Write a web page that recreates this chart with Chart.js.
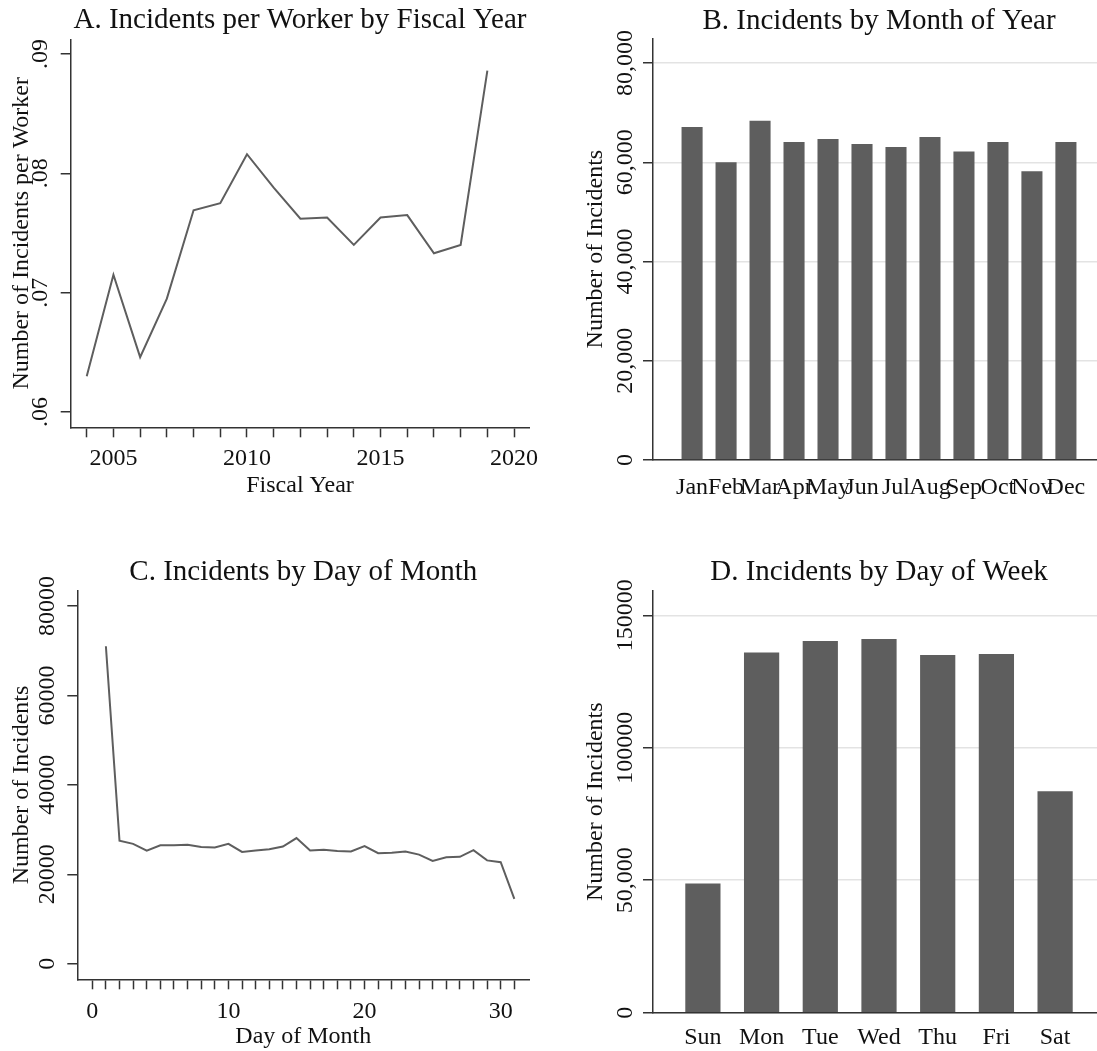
<!DOCTYPE html>
<html>
<head>
<meta charset="utf-8">
<title>Incidents</title>
<script src="https://cdn.jsdelivr.net/npm/chart.js@4.4.1/dist/chart.umd.min.js"></script>
<style>
  html, body { margin: 0; padding: 0; background: #fff; }
  #page { position: relative; width: 1097px; height: 1051px; overflow: hidden; background: #fff; }
  canvas { position: absolute; }
  #panelA { left: 0; top: 0; }
  #panelB { left: 548px; top: 0; }
  #panelC { left: 0; top: 520px; }
  #panelD { left: 548px; top: 520px; }
</style>
</head>
<body>
<div id="page">
  <canvas id="panelA" width="548" height="520"></canvas>
  <canvas id="panelB" width="557" height="520"></canvas>
  <canvas id="panelC" width="548" height="531"></canvas>
  <canvas id="panelD" width="557" height="531"></canvas>
</div>
<script>
const fiscalYears = [2004, 2005, 2006, 2007, 2008, 2009, 2010, 2011, 2012, 2013, 2014, 2015, 2016, 2017, 2018, 2019];
const incidentsPerWorker = [0.0630, 0.0715, 0.0646, 0.0695, 0.0769, 0.0775, 0.0816, 0.0788, 0.0762, 0.0763, 0.0740, 0.0763, 0.0765, 0.0733, 0.0740, 0.0886];
const yearTicks = [2004, 2005, 2006, 2007, 2008, 2009, 2010, 2011, 2012, 2013, 2014, 2015, 2016, 2017, 2018, 2019, 2020];
const labeledYears = [2005, 2010, 2015, 2020];
const perWorkerTicks = [0.06, 0.07, 0.08, 0.09];
const perWorkerTickLabels = ['.06', '.07', '.08', '.09'];

const months = ['Jan', 'Feb', 'Mar', 'Apr', 'May', 'Jun', 'Jul', 'Aug', 'Sep', 'Oct', 'Nov', 'Dec'];
const monthIncidents = [67100, 60000, 68400, 64100, 64700, 63700, 63100, 65100, 62200, 64100, 58200, 64100];
const monthCountTicks = [0, 20000, 40000, 60000, 80000];
const monthCountTickLabels = ['0', '20,000', '40,000', '60,000', '80,000'];

const daysOfMonth = [1, 2, 3, 4, 5, 6, 7, 8, 9, 10, 11, 12, 13, 14, 15, 16, 17, 18, 19, 20, 21, 22, 23, 24, 25, 26, 27, 28, 29, 30, 31];
const dayIncidents = [71000, 27500, 26800, 25300, 26500, 26500, 26600, 26100, 26000, 26800, 25000, 25300, 25600, 26200, 28100,
                      25300, 25500, 25200, 25100, 26300, 24700, 24800, 25100, 24400, 23000, 23800, 23900, 25400, 23100, 22700, 14500];
const dayTicks = [0, 1, 2, 3, 4, 5, 6, 7, 8, 9, 10, 11, 12, 13, 14, 15, 16, 17, 18, 19, 20, 21, 22, 23, 24, 25, 26, 27, 28, 29, 30, 31];
const labeledDays = [0, 10, 20, 30];
const dayCountTicks = [0, 20000, 40000, 60000, 80000];
const dayCountTickLabels = ['0', '20000', '40000', '60000', '80000'];

const weekdays = ['Sun', 'Mon', 'Tue', 'Wed', 'Thu', 'Fri', 'Sat'];
const weekdayIncidents = [48800, 136000, 140300, 141100, 135000, 135400, 83600];
const weekdayCountTicks = [0, 50000, 100000, 150000];
const weekdayCountTickLabels = ['0', '50,000', '100000', '150000'];

const serif = '"Liberation Serif", "Times New Roman", Times, serif';
const ink = '#111111';
const axisInk = '#333333';
const markGray = '#5e5e5e';
const gridGray = '#e3e3e3';

// title centred over the plot area, not the whole canvas
const panelTitle = {
    id: 'panelTitle',
    afterDraw(chart, args, opts) {
        const { ctx, chartArea } = chart;
        ctx.save();
        ctx.font = '29px ' + serif;
        ctx.fillStyle = ink;
        ctx.textAlign = 'center';
        ctx.textBaseline = 'alphabetic';
        ctx.fillText(opts.text, (chartArea.left + chartArea.right) / 2, opts.baseline);
        ctx.restore();
    },
};

// y tick labels turned on their side, centred on each tick
const rotatedYLabels = {
    id: 'rotatedYLabels',
    afterDraw(chart, args, opts) {
        const { ctx } = chart;
        const scale = chart.scales.y;
        ctx.save();
        ctx.font = '24px ' + serif;
        ctx.fillStyle = ink;
        ctx.textAlign = 'center';
        ctx.textBaseline = 'middle';
        scale.ticks.forEach(tick => {
            ctx.save();
            ctx.translate(opts.x, scale.getPixelForValue(tick.value));
            ctx.rotate(-Math.PI / 2);
            ctx.fillText(tick.label, 0, 0);
            ctx.restore();
        });
        ctx.restore();
    },
};

function fixedTicks(values) {
    return axis => {
        axis.ticks = values.map(value => ({ value }));
    };
}

function baseOptions(title, baseline, labelX, padding) {
    return {
        responsive: false,
        animation: false,
        events: [],
        layout: { padding },
        plugins: {
            legend: { display: false },
            tooltip: { enabled: false },
            panelTitle: { text: title, baseline },
            rotatedYLabels: { x: labelX },
        },
    };
}

function yAxis(min, max, ticks, labels, width, titleText, titlePad, gridLines) {
    return {
        min,
        max,
        afterBuildTicks: fixedTicks(ticks),
        afterFit: axis => { axis.width = width; },
        ticks: { display: false, callback: (v, i) => labels[i] },
        grid: {
            drawOnChartArea: gridLines,
            color: gridGray,
            lineWidth: 1.5,
            drawTicks: true,
            tickLength: 10,
            tickColor: axisInk,
            tickWidth: 1.5,
        },
        border: { display: true, color: axisInk, width: 1.5 },
        title: {
            display: true,
            text: titleText,
            color: ink,
            font: { family: serif, size: 24 },
            padding: { top: titlePad, bottom: 0 },
        },
    };
}

function xAxis(min, max, ticks, label, height, padding, withTickMarks) {
    return {
        type: 'linear',
        min,
        max,
        offset: false,
        afterBuildTicks: fixedTicks(ticks),
        afterFit: axis => { axis.height = height; },
        ticks: {
            autoSkip: false,
            minRotation: 0,
            maxRotation: 0,
            padding,
            color: ink,
            font: { family: serif, size: 24 },
            callback: label,
        },
        grid: {
            display: withTickMarks,
            offset: false,
            drawOnChartArea: false,
            drawTicks: withTickMarks,
            tickLength: withTickMarks ? 10 : 0,
            tickColor: axisInk,
            tickWidth: 1.5,
        },
        border: { display: true, color: axisInk, width: 1.5 },
    };
}

// A. incidents per worker by fiscal year
const optsA = baseOptions('A. Incidents per Worker by Fiscal Year', 28, 41, { top: 39.3, right: 18.7, bottom: 0, left: 0 });
optsA.scales = {
    x: Object.assign(xAxis(2003.4, 2020.57, yearTicks, v => labeledYears.includes(v) ? String(v) : '', 92.7, 7, true), {
        title: { display: true, text: 'Fiscal Year', color: ink, font: { family: serif, size: 24 }, padding: { top: 0, bottom: 20 } },
    }),
    y: yAxis(0.05872, 0.09123, perWorkerTicks, perWorkerTickLabels, 70.7, 'Number of Incidents per Worker', 7, false),
};
new Chart(document.getElementById('panelA'), {
    type: 'line',
    data: {
        datasets: [{
            data: fiscalYears.map((x, i) => ({ x, y: incidentsPerWorker[i] })),
            borderColor: markGray,
            borderWidth: 2,
            pointRadius: 0,
            tension: 0,
            fill: false,
        }],
    },
    options: optsA,
    plugins: [panelTitle, rotatedYLabels],
});

// B. incidents by month of year
const optsB = baseOptions('B. Incidents by Month of Year', 29, 78, { top: 38.3, right: 0, bottom: 0, left: 0 });
optsB.scales = {
    x: xAxis(-0.15, 13.15, months.map((m, i) => i + 1), (v, i) => months[i], 60, 13, false),
    y: yAxis(0, 85000, monthCountTicks, monthCountTickLabels, 105, 'Number of Incidents', 33.6, true),
};
new Chart(document.getElementById('panelB'), {
    type: 'bar',
    data: {
        datasets: [{
            data: months.map((m, i) => ({ x: i + 1, y: monthIncidents[i] })),
            backgroundColor: markGray,
            borderWidth: 0,
            barPercentage: 0.62,
            categoryPercentage: 1,
        }],
    },
    options: optsB,
    plugins: [panelTitle, rotatedYLabels],
});

// C. incidents by day of month
const optsC = baseOptions('C. Incidents by Day of Month', 60, 48, { top: 70.7, right: 18.7, bottom: 0, left: 0 });
optsC.scales = {
    x: Object.assign(xAxis(-1.1, 32.1, dayTicks, v => labeledDays.includes(v) ? String(v) : '', 71.7, 8, true), {
        title: { display: true, text: 'Day of Month', color: ink, font: { family: serif, size: 24 }, padding: { top: 0, bottom: 0 } },
    }),
    y: yAxis(-3490, 83420, dayCountTicks, dayCountTickLabels, 77.3, 'Number of Incidents', 7, false),
};
new Chart(document.getElementById('panelC'), {
    type: 'line',
    data: {
        datasets: [{
            data: daysOfMonth.map((x, i) => ({ x, y: dayIncidents[i] })),
            borderColor: markGray,
            borderWidth: 2,
            pointRadius: 0,
            tension: 0,
            fill: false,
        }],
    },
    options: optsC,
    plugins: [panelTitle, rotatedYLabels],
});

// D. incidents by day of week
const optsD = baseOptions('D. Incidents by Day of Week', 60, 78, { top: 70.7, right: 0, bottom: 0, left: 0 });
optsD.scales = {
    x: xAxis(0.15, 7.85, weekdays.map((d, i) => i + 1), (v, i) => weekdays[i], 38.3, 11, false),
    y: yAxis(0, 159300, weekdayCountTicks, weekdayCountTickLabels, 105, 'Number of Incidents', 33.6, true),
};
new Chart(document.getElementById('panelD'), {
    type: 'bar',
    data: {
        datasets: [{
            data: weekdays.map((d, i) => ({ x: i + 1, y: weekdayIncidents[i] })),
            backgroundColor: markGray,
            borderWidth: 0,
            barPercentage: 0.6,
            categoryPercentage: 1,
        }],
    },
    options: optsD,
    plugins: [panelTitle, rotatedYLabels],
});
</script>
</body>
</html>
